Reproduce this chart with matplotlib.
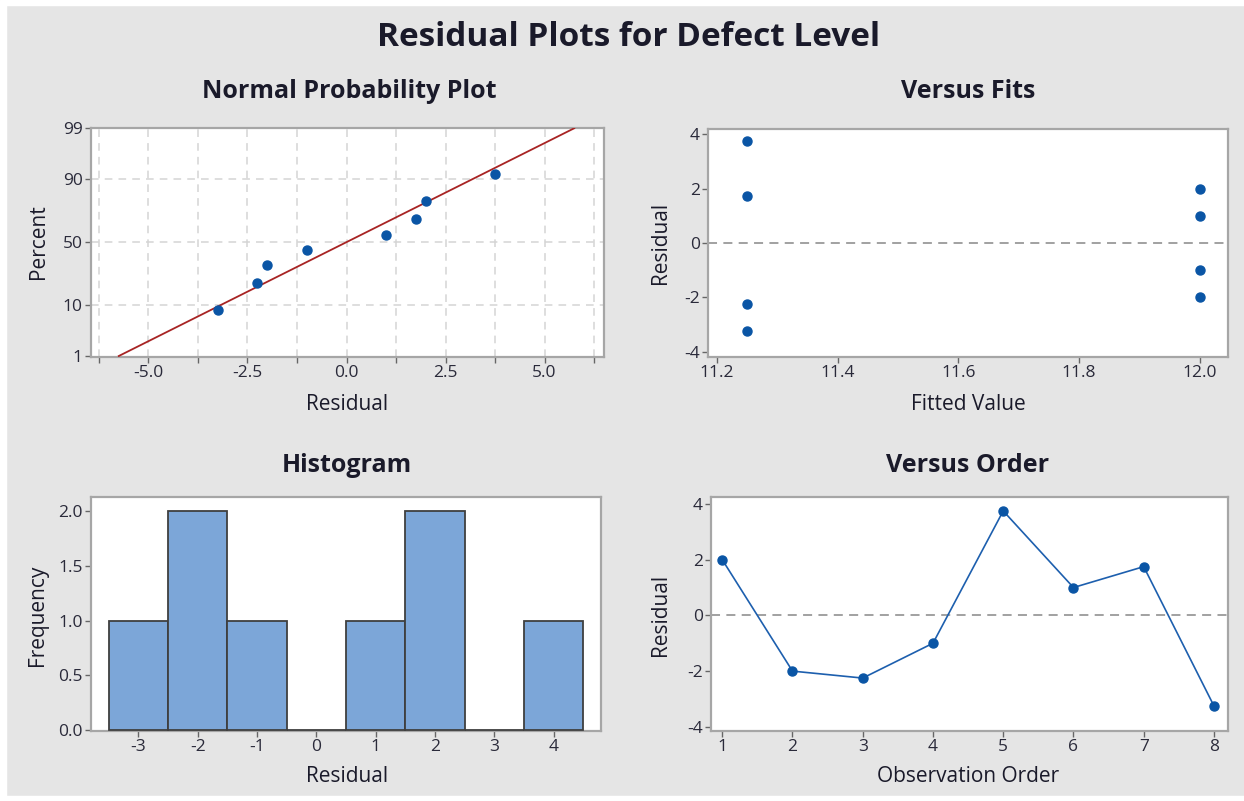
import matplotlib.pyplot as plt
from matplotlib.patches import Rectangle
from statistics import NormalDist, mean, stdev

# data
obs_order = [1, 2, 3, 4, 5, 6, 7, 8]
residuals = [2.0, -2.0, -2.25, -1.0, 3.75, 1.0, 1.75, -3.25]
fitted = [12.0, 12.0, 11.25, 12.0, 11.25, 12.0, 11.25, 11.25]
# plotting positions (percent) for the sorted residuals
npp_percent = [8.3, 20.2, 32.1, 44.0, 56.0, 67.9, 79.8, 91.7]
pct_ticks = [1, 10, 50, 90, 99]
hist_bins = [-3.5, -2.5, -1.5, -0.5, 0.5, 1.5, 2.5, 3.5, 4.5]

plt.rcParams['font.family'] = ['Open Sans', 'DejaVu Sans']
plt.rcParams['axes.unicode_minus'] = False

bg = '#e5e5e5'
dot = '#0a55a5'
spine_col = '#a6a6a6'
tick_col = '#2a2a3a'

nd = NormalDist()

fig = plt.figure(figsize=(12.44, 8.01), dpi=100, facecolor=bg)
W, H = 1244.0, 801.0

# white borders of the screenshot
fig.patches.append(Rectangle((0, 1 - 5 / H), 1, 5 / H, transform=fig.transFigure, color='white', zorder=0))
fig.patches.append(Rectangle((0, 0), 6 / W, 1, transform=fig.transFigure, color='white', zorder=0))
fig.patches.append(Rectangle((0, 0), 1, 5 / H, transform=fig.transFigure, color='white', zorder=0))


def box(x0, y0, x1, y1):
    # pixel box -> figure axes
    return fig.add_axes([x0 / W, 1 - y1 / H, (x1 - x0) / W, (y1 - y0) / H])


def style(ax):
    ax.set_facecolor('white')
    for s in ax.spines.values():
        s.set_color(spine_col)
        s.set_linewidth(1.6)
    ax.tick_params(direction='out', length=4, width=1, color='#666666',
                   labelsize=12.5, labelcolor=tick_col, pad=2)
    for lab in ax.get_xticklabels() + ax.get_yticklabels():
        lab.set_fontweight('medium')


def ptext(x, y, s, **kw):
    fig.text(x / W, 1 - y / H, s, ha='center', va='center', color='#1a1a2a', **kw)


ptext(629, 37, 'Residual Plots for Defect Level', fontsize=24, fontweight='bold')

# Normal probability plot
ax1 = box(91, 128, 604, 357)
srt = sorted(residuals)
z_pts = [nd.inv_cdf(p / 100) for p in npp_percent]
m, s = mean(residuals), stdev(residuals)
z_lo, z_hi = nd.inv_cdf(0.01), nd.inv_cdf(0.99)
ax1.plot([m + s * z_lo, m + s * z_hi], [z_lo, z_hi], color='#a82424', lw=1.3, zorder=3)
ax1.plot(srt, z_pts, 'o', color=dot, ms=6.5, zorder=4)
ax1.set_xlim(-6.45, 6.5)
ax1.set_ylim(z_lo - 0.02, z_hi + 0.005)
ax1.set_xticks([-5.0, -2.5, 0.0, 2.5, 5.0])
ax1.set_xticklabels(['-5.0', '-2.5', '0.0', '2.5', '5.0'])
ax1.set_xticks([-6.25, -3.75, -1.25, 1.25, 3.75, 6.25], minor=True)
ax1.set_yticks([nd.inv_cdf(p / 100) for p in pct_ticks])
ax1.set_yticklabels([str(p) for p in pct_ticks])
style(ax1)
ax1.tick_params(axis='x', which='minor', length=4, width=1, color='#666666')
for xv in [-6.25, -5, -3.75, -2.5, -1.25, 0, 1.25, 2.5, 3.75, 5, 6.25]:
    ax1.axvline(xv, color='#d4d4d4', lw=1.1, ls=(0, (5, 4)), zorder=1)
for p in [10, 50, 90]:
    ax1.axhline(nd.inv_cdf(p / 100), color='#d4d4d4', lw=1.1, ls=(0, (5, 4)), zorder=1)
ptext(349, 91, 'Normal Probability Plot', fontsize=18, fontweight='bold')
ptext(347, 405, 'Residual', fontsize=15, fontweight='medium')
ptext(38, 242, 'Percent', fontsize=15, fontweight='medium', rotation=90)

# Versus fits
ax2 = box(708, 129, 1228, 357)
ax2.plot(fitted, residuals, 'o', color=dot, ms=6.5, zorder=4)
ax2.axhline(0, color='#9a9a9a', lw=1.3, ls=(0, (5, 3.5)), zorder=2)
ax2.set_xlim(11.185, 12.047)
ax2.set_ylim(-4.2, 4.2)
ax2.set_xticks([11.2, 11.4, 11.6, 11.8, 12.0])
ax2.set_xticklabels(['11.2', '11.4', '11.6', '11.8', '12.0'])
ax2.set_yticks([-4, -2, 0, 2, 4])
style(ax2)
ptext(968, 91, 'Versus Fits', fontsize=18, fontweight='bold')
ptext(968, 405, 'Fitted Value', fontsize=15, fontweight='medium')
ptext(660, 243, 'Residual', fontsize=15, fontweight='medium', rotation=90)

# Histogram
ax3 = box(91, 497, 601, 731)
ax3.hist(residuals, bins=hist_bins, color='#7ca6d8', edgecolor='#3f3f3f', linewidth=1.3, zorder=3)
ax3.set_xlim(-3.8, 4.8)
ax3.set_ylim(-0.01, 2.13)
ax3.set_xticks([-3, -2, -1, 0, 1, 2, 3, 4])
ax3.set_yticks([0.0, 0.5, 1.0, 1.5, 2.0])
ax3.set_yticklabels(['0.0', '0.5', '1.0', '1.5', '2.0'])
style(ax3)
ptext(347, 465, 'Histogram', fontsize=18, fontweight='bold')
ptext(347, 777, 'Residual', fontsize=15, fontweight='medium')
ptext(38, 615, 'Frequency', fontsize=15, fontweight='medium', rotation=90)

# Versus order
ax4 = box(711, 497, 1228, 731)
ax4.axhline(0, color='#9a9a9a', lw=1.3, ls=(0, (5, 3.5)), zorder=2)
ax4.plot(obs_order, residuals, '-o', color='#1d5fae', lw=1.2, ms=6.5,
         markerfacecolor=dot, markeredgecolor=dot, zorder=4)
ax4.set_xlim(0.84, 8.2)
ax4.set_ylim(-4.15, 4.25)
ax4.set_xticks(obs_order)
ax4.set_yticks([-4, -2, 0, 2, 4])
style(ax4)
ptext(968, 465, 'Versus Order', fontsize=18, fontweight='bold')
ptext(968, 777, 'Observation Order', fontsize=15, fontweight='medium')
ptext(660, 615, 'Residual', fontsize=15, fontweight='medium', rotation=90)

fig.savefig('out.png', dpi=100, facecolor=bg)
